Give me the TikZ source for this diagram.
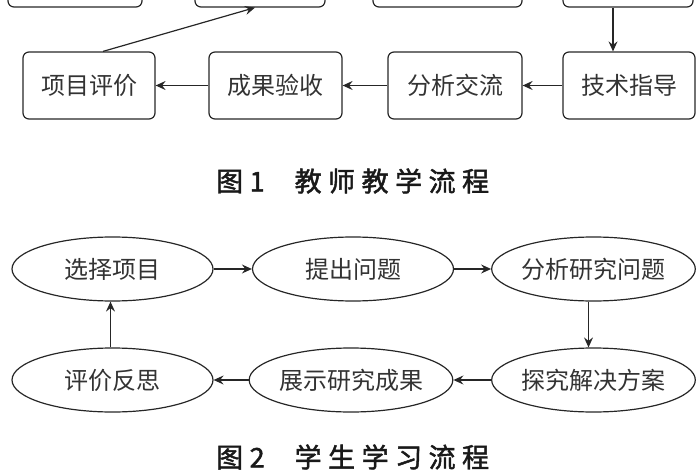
\documentclass[tikz,border=0pt]{standalone}
\usepackage{fontspec}
\usepackage{tikz}
\usetikzlibrary{arrows.meta,shapes.geometric}
\setmainfont{Noto Sans CJK SC}
\newfontfamily\capfont[LetterSpace=24,FakeBold=1.6]{Noto Sans CJK SC}

\begin{document}
\begin{tikzpicture}[x=1pt,y=-1pt,
  box/.style={draw=black!85,line width=1.2pt,rounded corners=6pt,minimum height=67pt,
    inner sep=0pt,text=black!80,font=\fontsize{24}{28}\selectfont},
  oval/.style={ellipse,draw=black!85,line width=1.2pt,minimum width=201pt,minimum height=64pt,
    inner sep=0pt,text=black!80,font=\fontsize{24}{28}\selectfont},
  arr/.style={draw=black!85,line width=1.2pt,-{Stealth[length=10pt,width=9pt,inset=3.5pt]}},
  figcap/.style={anchor=west,inner sep=0pt,text=black!90,font=\capfont\fontsize{27}{32}\selectfont}]
\useasboundingbox (0,0) rectangle (700,470);
\clip (0,0) rectangle (700,470);
% figure 1
\foreach \n/\x/\w in {t1/75/134,t2/260/130,t3/447.5/149,t4/628/130}
  \node[box,minimum width=\w pt] (\n) at (\x,-26.5) {};
\foreach \n/\x/\w/\lab in {eva/89/132/项目评价,acc/275.5/133/成果验收,disc/455/134/分析交流,tech/629/132/技术指导}
  \node[box,minimum width=\w pt] (\n) at (\x,85.5) {\lab};
\draw[arr] ([xshift=-15pt]t4.south) -- ([xshift=-16pt]tech.north);
\draw[arr] (tech) -- (disc);
\draw[arr] (disc) -- (acc);
\draw[arr] (acc) -- (eva);
\draw[arr] ([xshift=14pt]eva.north) -- ([xshift=-5pt]t2.south);
\node[figcap] (cap1) at (216,181) {图1\hspace{30pt}教师教学流程};
% figure 2
\foreach \n/\x/\y/\lab in {sel/112.5/269/选择项目,ask/353/269/提出问题,ana/593.5/269/分析研究问题,
    expl/593.5/380/探究解决方案,show/351/380/展示研究成果,refl/112.5/380/评价反思}
  \node[oval] (\n) at (\x,\y) {\lab};
\draw[arr] (sel) -- (ask);
\draw[arr] (ask) -- (ana);
\draw[arr] ([xshift=-5pt]ana.south) -- ([xshift=-5pt]expl.north);
\draw[arr] (expl) -- (show);
\draw[arr] (show) -- (refl);
\draw[arr] ([xshift=-2pt]refl.north) -- ([xshift=-2pt]sel.south);
\node[figcap] (cap2) at (216,457) {图2\hspace{30pt}学生学习流程};
\end{tikzpicture}
\end{document}
